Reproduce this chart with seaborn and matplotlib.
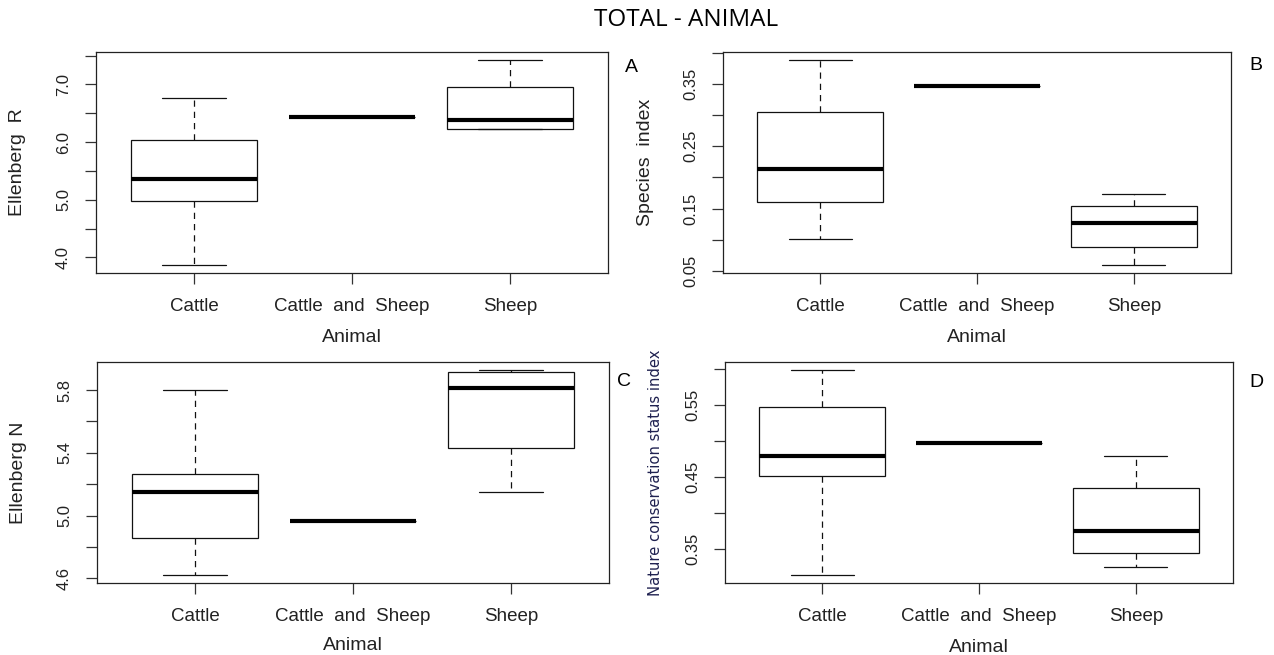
import numpy as np
import pandas as pd
import matplotlib
matplotlib.use("Agg")
import matplotlib.pyplot as plt
import seaborn as sns

# ---------------- data (five-number summaries) ----------------
categories = ["Cattle", "Cattle and Sheep", "Sheep"]
tick_names = ["Cattle", "Cattle  and  Sheep", "Sheep"]

# order: lower whisker, Q1, median, Q3, upper whisker
ellenberg_r_cattle = [3.87, 4.98, 5.36, 6.03, 6.76]
ellenberg_r_both = [6.43, 6.43, 6.43, 6.43, 6.43]
ellenberg_r_sheep = [6.22, 6.23, 6.38, 6.95, 7.42]

species_cattle = [0.102, 0.161, 0.214, 0.305, 0.388]
species_both = [0.346, 0.346, 0.346, 0.346, 0.346]
species_sheep = [0.060, 0.089, 0.127, 0.155, 0.174]

ellenberg_n_cattle = [4.623, 4.857, 5.152, 5.265, 5.800]
ellenberg_n_both = [4.963, 4.963, 4.963, 4.963, 4.963]
ellenberg_n_sheep = [5.152, 5.430, 5.811, 5.913, 5.927]

ncs_cattle = [0.314, 0.452, 0.480, 0.548, 0.599]
ncs_both = [0.497, 0.497, 0.497, 0.497, 0.497]
ncs_sheep = [0.325, 0.344, 0.375, 0.435, 0.479]

yticks_a = [4.0, 4.5, 5.0, 5.5, 6.0, 6.5, 7.0, 7.5]
ylabels_a = ["4.0", "", "5.0", "", "6.0", "", "7.0", ""]
yticks_b = [0.05, 0.10, 0.15, 0.20, 0.25, 0.30, 0.35, 0.40]
ylabels_b = ["0.05", "", "0.15", "", "0.25", "", "0.35", ""]
yticks_c = [4.6, 4.8, 5.0, 5.2, 5.4, 5.6, 5.8]
ylabels_c = ["4.6", "", "5.0", "", "5.4", "", "5.8"]
yticks_d = [0.35, 0.40, 0.45, 0.50, 0.55, 0.60]
ylabels_d = ["0.35", "", "0.45", "", "0.55", ""]

title = "TOTAL - ANIMAL"
panel_letters = ["A", "B", "C", "D"]
ylabel_texts = ["Ellenberg  R", "Species  index", "Ellenberg N", "Nature conservation status index"]

# ---------------- style ----------------
sns.set_theme(style="ticks")
plt.rcParams["font.family"] = ["Liberation Sans", "DejaVu Sans"]
plt.rcParams["axes.edgecolor"] = "#222222"
plt.rcParams["axes.linewidth"] = 0.9

fig = plt.figure(figsize=(12.74, 6.55), dpi=100)

W, H = 1274, 655
def px_axes(left, top, right, bottom):
    return [left / W, 1 - bottom / H, (right - left) / W, (bottom - top) / H]

base_font = ["Liberation Sans", "DejaVu Sans"]
panels = [
    dict(rect=px_axes(96, 52, 608, 273), groups=[ellenberg_r_cattle, ellenberg_r_both, ellenberg_r_sheep],
         yticks=yticks_a, ylabels=ylabels_a, ylab=ylabel_texts[0], ylab_xy=(-78 / 512, 0.5), yfs=14,
         ycol="#222222", yfam=base_font, xlab_y=-64 / 221),
    dict(rect=px_axes(723, 52, 1231, 273), groups=[species_cattle, species_both, species_sheep],
         yticks=yticks_b, ylabels=ylabels_b, ylab=ylabel_texts[1], ylab_xy=(-78 / 508, 0.5), yfs=14,
         ycol="#222222", yfam=base_font, xlab_y=-64 / 221),
    dict(rect=px_axes(97, 362, 609, 583), groups=[ellenberg_n_cattle, ellenberg_n_both, ellenberg_n_sheep],
         yticks=yticks_c, ylabels=ylabels_c, ylab=ylabel_texts[2], ylab_xy=(-78 / 512, 0.5), yfs=14,
         ycol="#222222", yfam=base_font, xlab_y=-62 / 221),
    dict(rect=px_axes(725, 362, 1233, 583), groups=[ncs_cattle, ncs_both, ncs_sheep],
         yticks=yticks_d, ylabels=ylabels_d, ylab=ylabel_texts[3], ylab_xy=(-69 / 508, 0.5), yfs=10.6,
         ycol="#1f2150", yfam=["DejaVu Sans"], xlab_y=-64 / 221),
]

letter_pos = [(631, 67), (1256, 65), (624, 382), (1256, 383)]

for i, p in enumerate(panels):
    ax = fig.add_axes(p["rect"])
    rows = []
    for cat, vals in zip(categories, p["groups"]):
        for v in vals:
            rows.append((cat, v))
    df = pd.DataFrame(rows, columns=["Animal", "value"])
    sns.boxplot(data=df, x="Animal", y="value", order=categories, ax=ax,
                color="white", linecolor="#111111", linewidth=0.9, width=0.8,
                whis=1.5, showfliers=False, saturation=1,
                medianprops=dict(linewidth=3.0, color="black"),
                whiskerprops=dict(linestyle=(0, (5, 4))))
    allv = np.concatenate([np.asarray(g) for g in p["groups"]])
    lo, hi = allv.min(), allv.max()
    pad = 0.04 * (hi - lo)
    ax.set_ylim(lo - pad, hi + pad)
    ax.set_xlim(-0.62, 2.62)
    ax.set_yticks(p["yticks"])
    ax.set_yticklabels(p["ylabels"], rotation=90, va="center", fontsize=12, color="#222222")
    ax.set_xticks(range(len(categories)))
    ax.set_xticklabels(tick_names, fontsize=13.5, color="#222222")
    ax.tick_params(axis="both", direction="out", length=8, width=0.9, color="#333333")
    ax.tick_params(axis="x", pad=10)
    ax.tick_params(axis="y", pad=10)
    ax.set_xlabel("Animal", fontsize=14, color="#222222")
    ax.xaxis.label.set_va("center")
    ax.xaxis.set_label_coords(0.5, p["xlab_y"])
    ax.set_ylabel(p["ylab"], fontsize=p["yfs"], color=p["ycol"], family=p["yfam"])
    ax.yaxis.label.set_va("center")
    ax.yaxis.set_label_coords(*p["ylab_xy"])
    for s in ax.spines.values():
        s.set_visible(True)
    lx, ly = letter_pos[i]
    fig.text(lx / W, 1 - ly / H, panel_letters[i], fontsize=14, ha="center", va="center", color="black")

fig.text(686 / W, 1 - 20 / H, title, fontsize=17.5, ha="center", va="center",
         family=["Open Sans", "DejaVu Sans"], color="black")

fig.savefig("out.png", dpi=100)
